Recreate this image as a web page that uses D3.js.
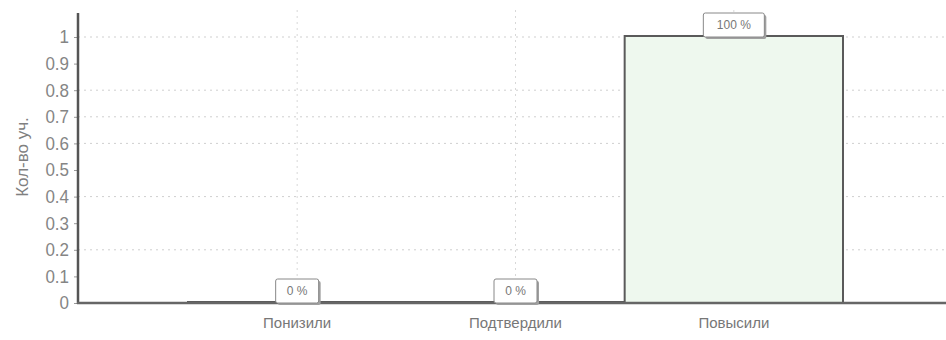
<!DOCTYPE html>
<html>
<head>
<meta charset="utf-8">
<script src="https://cdn.jsdelivr.net/npm/d3@7"></script>
<style>
  body { margin: 0; background: #fff; }
  svg { display: block; font-family: "Liberation Sans", Arial, sans-serif; }
</style>
</head>
<body>
<div id="chart-area"></div>
<script>
// data
var categories = ["Понизили", "Подтвердили", "Повысили"];
var values = [0, 0, 1];
var percentLabels = ["0 %", "0 %", "100 %"];
var yTicks = [0, 0.1, 0.2, 0.3, 0.4, 0.5, 0.6, 0.7, 0.8, 0.9, 1];
var gridTicks = [0.2, 0.4, 0.6, 0.7, 0.8, 1];
var yTitle = "Кол-во уч.";

var w = 946, h = 340;
var axisX = 78, baseY = 303;

var svg = d3.select("#chart-area")
    .append("svg")
    .attr("width", w)
    .attr("height", h);

var yScale = d3.scaleLinear()
    .domain([0, 1])
    .range([baseY, 37]);

var xScale = d3.scaleBand()
    .domain(categories)
    .range([188, 843])
    .padding(0);

// grid
svg.append("g")
    .selectAll("line")
    .data(gridTicks)
    .enter()
    .append("line")
    .attr("x1", axisX)
    .attr("x2", w)
    .attr("y1", function (d) { return yScale(d); })
    .attr("y2", function (d) { return yScale(d); })
    .attr("stroke", "#cfcfcf")
    .attr("stroke-width", 1)
    .attr("stroke-dasharray", "2,4");

svg.append("g")
    .selectAll("line")
    .data(categories)
    .enter()
    .append("line")
    .attr("x1", function (d) { return xScale(d) + xScale.bandwidth() / 2; })
    .attr("x2", function (d) { return xScale(d) + xScale.bandwidth() / 2; })
    .attr("y1", 10)
    .attr("y2", baseY)
    .attr("stroke", "#d8d8d8")
    .attr("stroke-width", 1)
    .attr("stroke-dasharray", "2,4");

// bars
svg.append("g")
    .selectAll("rect")
    .data(values)
    .enter()
    .append("rect")
    .attr("x", function (d, i) { return xScale(categories[i]); })
    .attr("y", function (d) { return yScale(d) - 1; })
    .attr("width", xScale.bandwidth())
    .attr("height", function (d) { return baseY - yScale(d) + 1; })
    .attr("fill", "#eef8ee")
    .attr("stroke", "#5a5a5a")
    .attr("stroke-width", 2);

// axes
var yAxis = d3.axisLeft(yScale)
    .tickValues(yTicks)
    .tickFormat(function (d) { return d === 0 || d === 1 ? String(d) : d3.format(".1f")(d); })
    .tickSize(4)
    .tickPadding(5);

var gy = svg.append("g")
    .attr("transform", "translate(" + axisX + ",0)")
    .call(yAxis);
gy.select(".domain").remove();
gy.selectAll(".tick line").attr("stroke", "#999");
gy.selectAll(".tick text")
    .attr("fill", "#858585")
    .attr("font-size", "17px")
    .attr("transform", "scale(1,1.1)");

svg.append("line")
    .attr("x1", axisX).attr("x2", axisX)
    .attr("y1", 13).attr("y2", baseY + 1)
    .attr("stroke", "#555").attr("stroke-width", 2.5);

svg.append("line")
    .attr("x1", axisX - 1).attr("x2", w)
    .attr("y1", baseY).attr("y2", baseY)
    .attr("stroke", "#666").attr("stroke-width", 2.5);

// category labels
svg.append("g")
    .selectAll("text")
    .data(categories)
    .enter()
    .append("text")
    .attr("x", function (d) { return xScale(d) + xScale.bandwidth() / 2; })
    .attr("y", 328)
    .attr("text-anchor", "middle")
    .attr("font-size", "15px")
    .attr("fill", "#777")
    .text(function (d) { return d; });

// y title
svg.append("text")
    .attr("transform", "translate(28,157) rotate(-90)")
    .attr("text-anchor", "middle")
    .attr("font-size", "17px")
    .attr("fill", "#808080")
    .text(yTitle);

// value boxes
var boxes = svg.append("g")
    .selectAll("g")
    .data(values)
    .enter()
    .append("g")
    .attr("transform", function (d, i) {
        return "translate(" + (xScale(categories[i]) + xScale.bandwidth() / 2) + "," + yScale(d) + ")";
    });

boxes.append("rect")
    .attr("x", function (d, i) { return -percentLabels[i].length * 4.5 - 8 + 2; })
    .attr("y", -22)
    .attr("width", function (d, i) { return percentLabels[i].length * 9 + 16; })
    .attr("height", 24)
    .attr("rx", 2)
    .attr("fill", "#a0a0a0");

boxes.append("rect")
    .attr("x", function (d, i) { return -percentLabels[i].length * 4.5 - 8; })
    .attr("y", -24)
    .attr("width", function (d, i) { return percentLabels[i].length * 9 + 16; })
    .attr("height", 24)
    .attr("rx", 2)
    .attr("fill", "#fff")
    .attr("stroke", "#888")
    .attr("stroke-width", 1);

boxes.append("text")
    .attr("y", -8)
    .attr("text-anchor", "middle")
    .attr("font-size", "12px")
    .attr("fill", "#777")
    .text(function (d, i) { return percentLabels[i]; });
</script>
</body>
</html>
